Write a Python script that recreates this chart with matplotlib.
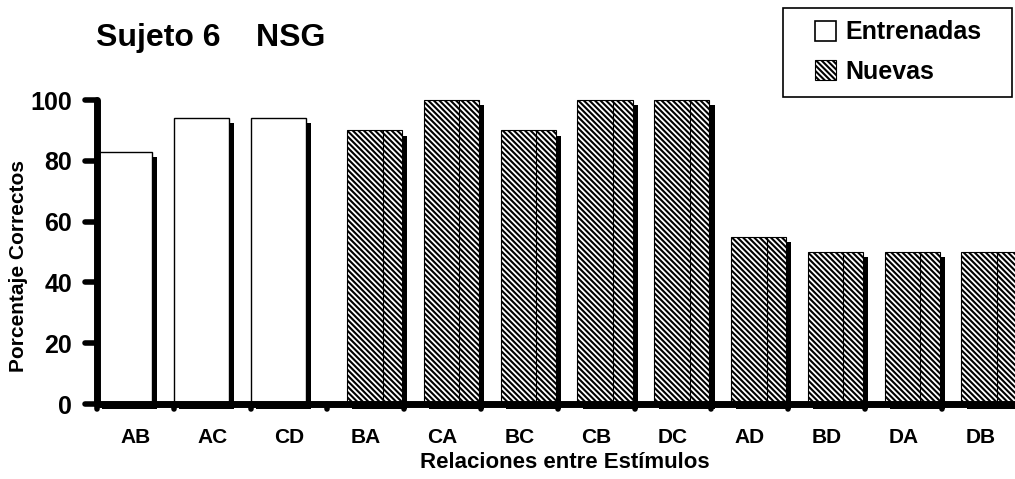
import numpy as np
import matplotlib
matplotlib.use("Agg")
import matplotlib.pyplot as plt
import matplotlib.patheffects as pe
from matplotlib.patches import Patch, Rectangle

# values
categories = ['AB', 'AC', 'CD', 'BA', 'CA', 'BC', 'CB', 'DC', 'AD', 'BD', 'DA', 'DB']
entrenadas = [83, 94, 94, np.nan, np.nan, np.nan, np.nan, np.nan, np.nan, np.nan, np.nan, np.nan]
nuevas = [np.nan, np.nan, np.nan, 90, 100, 90, 100, 100, 55, 50, 50, 50]
yticks = [0, 20, 40, 60, 80, 100]

plt.rcParams['font.family'] = ['Liberation Sans', 'DejaVu Sans']
plt.rcParams['font.weight'] = 'bold'
plt.rcParams['hatch.linewidth'] = 1.5
plt.rcParams['hatch.color'] = 'black'

W, H = 1015, 479
fig = plt.figure(figsize=(W / 100, H / 100), dpi=100)
# axis area: y axis at x=97px, x axis at y=404px, top (100) at y=100px
ax_w = 921.6
ax_h = 304
ax = fig.add_axes([97 / W, (H - 404) / H, ax_w / W, ax_h / H])

x = np.arange(len(categories))
e = np.array(entrenadas, dtype=float)
n = np.array(nuevas, dtype=float)

bar_w = 0.72
e_off = 0.0
n_off = 0.255
hatch = '\\' * 6

shadow = [pe.SimplePatchShadow(offset=(3.7, -3.7), shadow_rgbFace='black', alpha=1.0),
          pe.Normal()]

me = ~np.isnan(e)
bars_e = ax.bar(x[me] + e_off, e[me], width=bar_w, align='edge', color='white',
                edgecolor='black', linewidth=1.0, clip_on=False, zorder=2)
mn = ~np.isnan(n)
bars_n = ax.bar(x[mn] + n_off, n[mn], width=bar_w, align='edge', color='white',
                edgecolor='black', linewidth=0.8, hatch=hatch, clip_on=False, zorder=2)
for b in list(bars_e) + list(bars_n):
    b.set_path_effects(shadow)

# the thin line inside the hatched bars (edge of the empty "Entrenadas" slot)
ax.vlines(x[mn] + e_off + bar_w, 0, n[mn], color='black', linewidth=0.8, zorder=3)

ax.set_xlim(0, len(categories))
ax.set_ylim(0, 100)

for s in ['top', 'right']:
    ax.spines[s].set_visible(False)
for s in ['left', 'bottom']:
    ax.spines[s].set_linewidth(5)
    ax.spines[s].set_capstyle('round')
    ax.spines[s].set_zorder(5)

# tick labels only; tick marks drawn as round dots below
ax.set_yticks(yticks)
ax.set_yticklabels([str(v) for v in yticks], fontsize=18, fontweight='bold')
ax.tick_params(axis='y', length=0, pad=18)
ax.set_xticks(x + 0.5)
ax.set_xticklabels(categories, fontsize=15, fontweight='bold')
ax.tick_params(axis='x', length=0, pad=17)

ytl = 12 / ax_w
for v in yticks:
    ax.plot([0, -ytl], [v, v], color='black', linewidth=4, solid_capstyle='round',
            transform=ax.get_yaxis_transform(), clip_on=False, zorder=6)
xtl = 5 / ax_h
for b in range(len(categories) + 1):
    ax.plot([b, b], [0, -xtl], color='black', linewidth=4, solid_capstyle='round',
            transform=ax.get_xaxis_transform(), clip_on=False, zorder=6)

ax.set_xlabel('Relaciones entre Estímulos', fontsize=16, fontweight='bold')
ax.xaxis.set_label_coords((564.5 - 97) / ax_w, (404 - 452) / ax_h)
ax.set_ylabel('Porcentaje Correctos', fontsize=15, fontweight='bold')
ax.yaxis.set_label_coords((28 - 97) / ax_w, (404 - 266) / ax_h)

fig.text(96 / W, 1 - 46 / H, 'Sujeto 6    NSG', fontsize=23, fontweight='bold',
         ha='left', va='baseline')

# legend box
fig.patches.append(Rectangle((783 / W, 1 - 97 / H), (1012 - 783) / W, (97 - 8) / H,
                             transform=fig.transFigure, facecolor='white',
                             edgecolor='black', linewidth=1.2, zorder=1))
handles = [Patch(facecolor='white', edgecolor='black', linewidth=1.2, label='Entrenadas'),
           Patch(facecolor='white', edgecolor='black', linewidth=0.8, hatch=hatch,
                 label='Nuevas')]
fig.legend(handles=handles, loc='center', bbox_to_anchor=(898 / W, 1 - 52 / H),
           frameon=False, handlelength=0.85, handleheight=0.85,
           handletextpad=0.35, labelspacing=0.62, prop={'weight': 'bold', 'size': 18})

fig.savefig('out.png', dpi=100)
